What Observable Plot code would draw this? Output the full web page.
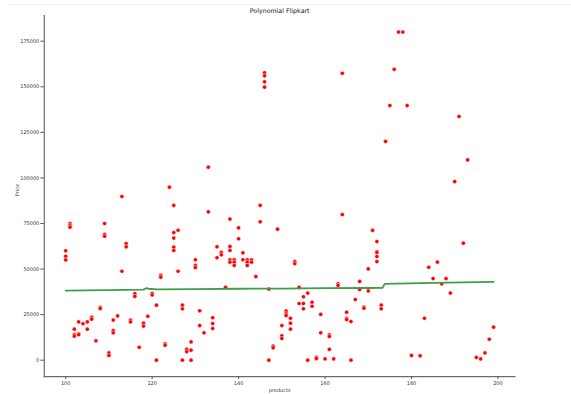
<!DOCTYPE html>
<html>
<head>
<meta charset="utf-8">
<script src="https://cdn.jsdelivr.net/npm/d3@7"></script>
<script src="https://cdn.jsdelivr.net/npm/@observablehq/plot@0.6"></script>
<style>
  html, body { margin: 0; padding: 0; background: #fff; }
  #topline { position: absolute; left: 7px; top: 4px; width: 564px; height: 1px; background: #efefef; }
  #chart { position: absolute; left: 0; top: 0; }
</style>
</head>
<body>
<div id="topline"></div>
<div id="chart"></div>
<script>
const titleText = "Polynomial Flipkart";
const xLabel = "products";
const yLabel = "Price";

// product ids and the prices observed for each of them
const productIds = [100,101,102,103,104,105,106,107,108,109,110,111,112,113,114,115,116,117,118,119,
  120,121,122,123,124,125,126,127,128,129,130,131,132,133,134,135,136,137,138,139,
  140,141,142,143,144,145,146,147,148,149,150,151,152,153,154,155,156,157,158,159,
  160,161,162,163,164,165,166,167,168,169,170,171,172,173,174,175,176,177,178,179,
  180,182,183,184,185,186,187,188,189,190,191,192,193,195,196,197,198,199];
const pricesByProduct = [
  [60000,57000,55000],[75000,74000,73000],[17000,14000,13200],[21000,14500,14000],[20000],
  [21000,17000],[23500,22500],[10600],[29000,28300],[75000,69000,68000],
  [4000,2600],[22000,16300,15000],[24300],[89800,48800],[64000,62200],
  [22000,21000],[36500,35000],[7100],[20300,18700],[24100],
  [36700,35800],[30200,0],[46500,45500],[9000,8200],[94900],
  [84900,70000,67000,62000,60200],[71300,48800],[30200,28200,0],[6000,4700],[10000,5500,0],
  [55100,52000,50800],[27100,19000],[15000],[105900,81400],[23300,20100,17400],
  [62200,56200],[59100,57800],[40000],[77400,62400,60200,55100,53800],[55100,53800,52000],
  [72600,66600],[58900,55100],[55100,53800,52000],[55100,53800],[45900],
  [84900,75900],[157700,156000,152700,149800],[39000,0],[7700,6800],[71900],
  [19000,13400,11900],[27000,25500,24500],[23000,20300,17000],[54100,52900],[40000,31100],
  [34800,31100,28200],[36800,0],[31800,29600],[1600,900],[25100,15000],
  [700],[13900,13000,5900],[700],[41900,41000],[157400,79900],
  [26300,23000,22300],[21200,0],[33300],[43200,38800],[29100,28500],
  [50100,38000],[71200],[65100,59600,59100,56900,54100],[30200,28200],[120000],
  [139700],[159600],[180000],[180000],[139700],
  [2600],[2400],[23000],[51000],[44800],[53800],[41900],[44800],[36800],
  [98000],[133700],[64200],[109900],[1500],[700],[4000],[11500],[18100]
];

// polynomial fit line
const fitX = [100,110,118,118.6,119.2,121,130,140,150,160,170,173.3,173.8,185,199];
const fitY = [38200,38400,38700,39500,39200,38900,39000,39200,39300,39500,39600,39700,41900,42400,43000];

const xTicks = [100,120,140,160,180,200];
const yTicks = [0,25000,50000,75000,100000,125000,150000,175000];

const points = [];
productIds.forEach((p, i) => pricesByProduct[i].forEach(v => points.push({product: p, price: v})));
const fit = fitX.map((x, i) => ({product: x, price: fitY[i]}));

const chart = Plot.plot({
  width: 571,
  height: 394,
  marginLeft: 43.8,
  marginRight: 56.5,
  marginTop: 15.2,
  marginBottom: 17.9,
  style: {fontFamily: "DejaVu Sans", fontSize: "5px", color: "#333", background: "transparent"},
  x: {domain: [95.05, 203.95]},
  y: {domain: [-9000, 189000]},
  marks: [
    Plot.frame({anchor: "left", stroke: "#6b6b6b", strokeWidth: 1.2}),
    Plot.frame({anchor: "bottom", stroke: "#6b6b6b", strokeWidth: 1.2}),
    Plot.axisX({ticks: xTicks, tickFormat: d => String(d), tickSize: 3, tickPadding: 1.5,
      label: null, fontSize: 5, stroke: "#555"}),
    Plot.axisY({ticks: yTicks, tickFormat: d => String(d), tickSize: 3.5, tickPadding: 1.5,
      label: null, fontSize: 5, stroke: "#555"}),
    Plot.text([xLabel], {frameAnchor: "bottom", dy: 14, lineAnchor: "middle", fontSize: 5, fill: "#333"}),
    Plot.text([yLabel], {frameAnchor: "left", dx: -27, rotate: -90, lineAnchor: "middle", fontSize: 5, fill: "#333"}),
    Plot.dot(points, {x: "product", y: "price", r: 2.1, fill: "#ff0000", stroke: "white", strokeWidth: 0.5}),
    Plot.line(fit, {x: "product", y: "price", stroke: "#3d9f46", strokeWidth: 1.8}),
    Plot.text([titleText], {frameAnchor: "top", dy: -5, lineAnchor: "middle", fontSize: 6.3, fill: "#111"})
  ]
});
document.getElementById("chart").appendChild(chart);
</script>
</body>
</html>
